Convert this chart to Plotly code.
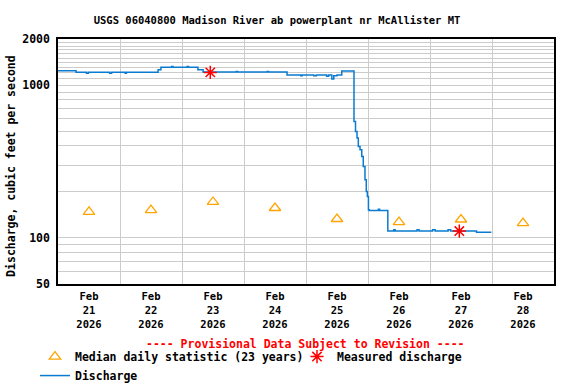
import plotly.graph_objects as go

# discharge record (15-min data, simplified to step changes), cubic feet per second
discharge_times = [
    "2026-02-21 00:00", "2026-02-21 07:00", "2026-02-21 11:00", "2026-02-21 11:45",
    "2026-02-21 20:00", "2026-02-21 20:45", "2026-02-22 02:00", "2026-02-22 02:30",
    "2026-02-22 14:45", "2026-02-22 15:50", "2026-02-22 20:00", "2026-02-22 20:30",
    "2026-02-23 02:00", "2026-02-23 02:30", "2026-02-23 06:10", "2026-02-23 08:10",
    "2026-02-23 21:00", "2026-02-23 21:30", "2026-02-24 09:00", "2026-02-24 09:30",
    "2026-02-24 16:40", "2026-02-24 22:00", "2026-02-24 22:30", "2026-02-25 03:00",
    "2026-02-25 04:00", "2026-02-25 08:00", "2026-02-25 08:45", "2026-02-25 10:00",
    "2026-02-25 10:45", "2026-02-25 12:00", "2026-02-25 13:50", "2026-02-25 18:35",
    "2026-02-25 19:10", "2026-02-25 19:45", "2026-02-25 20:15", "2026-02-25 20:55",
    "2026-02-25 21:35", "2026-02-25 22:10", "2026-02-25 22:50", "2026-02-25 23:20",
    "2026-02-25 23:45", "2026-02-26 00:10", "2026-02-26 00:30", "2026-02-26 04:00",
    "2026-02-26 04:30", "2026-02-26 07:40", "2026-02-26 10:00", "2026-02-26 10:30",
    "2026-02-26 19:00", "2026-02-26 19:45", "2026-02-27 01:00", "2026-02-27 02:00",
    "2026-02-27 07:00", "2026-02-27 08:00", "2026-02-27 18:00", "2026-02-27 23:45",
]
discharge_values = [
    1240, 1211, 1195, 1211,
    1195, 1211, 1195, 1211,
    1260, 1305, 1320, 1305,
    1320, 1305, 1260, 1215,
    1225, 1215, 1225, 1215,
    1163, 1150, 1163, 1150,
    1163, 1140, 1163, 1095,
    1150, 1163, 1235, 577,
    496, 451, 396, 377,
    341, 293, 240, 201,
    187, 153, 151, 154,
    151, 111, 113, 111,
    113, 111, 113, 111,
    113, 111, 109, 109,
]

# median daily statistic (23 years), plotted at noon
median_days = ["2026-02-21 12:00", "2026-02-22 12:00", "2026-02-23 12:00", "2026-02-24 12:00",
               "2026-02-25 12:00", "2026-02-26 12:00", "2026-02-27 12:00", "2026-02-28 12:00"]
median_values = [148, 152, 172, 157, 133, 127, 132, 125]

# field measurements
measured_times = ["2026-02-23 10:57", "2026-02-27 11:21"]
measured_values = [1210, 111]

# axis labels
x_tick_vals = median_days
x_tick_text = ["Feb<br>21<br>2026", "Feb<br>22<br>2026", "Feb<br>23<br>2026", "Feb<br>24<br>2026",
               "Feb<br>25<br>2026", "Feb<br>26<br>2026", "Feb<br>27<br>2026", "Feb<br>28<br>2026"]
y_grid_vals = [50, 60, 70, 80, 90, 100, 200, 300, 400, 500, 600, 700, 800, 900,
               1000, 1100, 1200, 1300, 1400, 1500, 1600, 1700, 1800, 1900, 2000]
y_labeled = {50: "50", 100: "100", 1000: "1000", 2000: "2000"}
y_tick_text = [y_labeled.get(v, "") for v in y_grid_vals]

FONT = "DejaVu Sans Mono"

fig = go.Figure()

fig.add_trace(go.Scatter(
    x=discharge_times, y=discharge_values, mode="lines", line_shape="hv",
    line=dict(color="#0a7bd0", width=1.5), name="Discharge", legendrank=3,
))
fig.add_trace(go.Scatter(
    x=median_days, y=median_values, mode="markers",
    marker=dict(symbol="triangle-up-open", size=10, color="#ffa500", line=dict(width=1.3)),
    name="Median daily statistic (23 years)", legendrank=1,
))
fig.add_trace(go.Scatter(
    x=measured_times, y=measured_values, mode="markers",
    marker=dict(symbol="asterisk-open", size=11, color="red", line=dict(color="red", width=1.5)),
    name="Measured discharge", legendrank=2,
))

fig.update_layout(
    width=576, height=384,
    margin=dict(l=58, r=22, t=39, b=100, autoexpand=False),
    paper_bgcolor="white", plot_bgcolor="white",
    font=dict(family=FONT, weight="bold", color="black", size=11.5),
    title=dict(text="USGS 06040800 Madison River ab powerplant nr McAllister MT",
               x=0.481, xanchor="center", y=1 - 20 / 384, yanchor="middle",
               font=dict(family=FONT, weight="bold", size=10.5)),
    showlegend=True,
    legend=dict(orientation="h", x=-0.0464, xanchor="left", y=-0.237, yanchor="top",
                entrywidth=217, entrywidthmode="pixels", bgcolor="rgba(0,0,0,0)",
                font=dict(family=FONT, weight="bold", size=11.5), traceorder="normal"),
    xaxis=dict(
        type="date", range=["2026-02-21", "2026-03-01"],
        tickmode="array", tickvals=x_tick_vals, ticktext=x_tick_text,
        showgrid=False, ticks="", tickfont=dict(size=10.5), ticklabelstandoff=2,
        minor=dict(dtick=86400000, tick0="2026-02-21", showgrid=True, gridcolor="#cccccc", gridwidth=1),
        showline=True, linecolor="black", linewidth=1.5, mirror=True, zeroline=False,
    ),
    yaxis=dict(
        type="log", range=[1.69897, 3.30103],
        tickmode="array", tickvals=y_grid_vals, ticktext=y_tick_text,
        showgrid=True, gridcolor="#cccccc", gridwidth=1, ticks="", tickfont=dict(size=11.5),
        ticklabelstandoff=4,
        showline=True, linecolor="black", linewidth=1.5, mirror=True, zeroline=False,
    ),
    annotations=[
        dict(text="Discharge, cubic feet per second", textangle=-90,
             xref="paper", yref="paper", x=-0.0948, y=0.482, xanchor="center", yanchor="middle",
             showarrow=False, font=dict(family=FONT, weight="bold", size=11.5)),
        dict(text="---- Provisional Data Subject to Revision ----",
             xref="paper", yref="paper", x=0.499, y=-0.243, xanchor="center", yanchor="middle",
             showarrow=False, font=dict(family=FONT, weight="bold", size=11.5, color="red")),
    ],
)

fig.write_html("out.html", config={"displayModeBar": False},
               post_script="document.body.style.margin='0';")
